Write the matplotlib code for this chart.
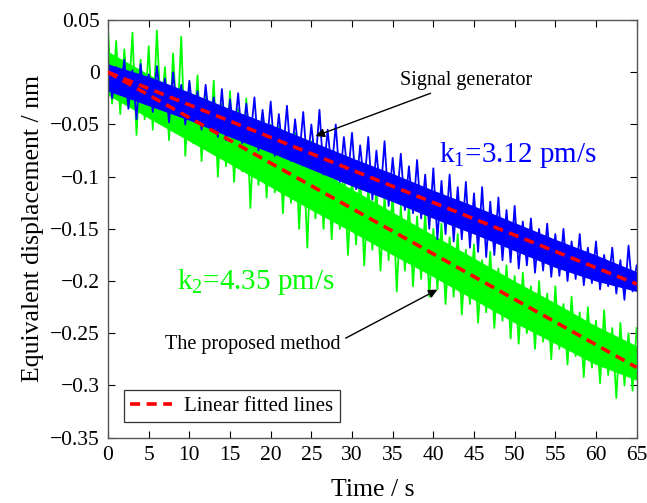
import matplotlib

matplotlib.use("Agg")
import matplotlib.pyplot as plt  # noqa: E402
import numpy as np  # noqa: E402

plt.rcParams.update({
    "font.family": ["Liberation Serif", "DejaVu Serif"],
    "mathtext.default": "regular",
    "axes.unicode_minus": True,
})

# --- data (nm vs s) ---
# noise maxima at t = 0, 1, ..., 65 and minima at t = 0.5, 1.5, ..., 64.5
t_peak = np.arange(0, 66, 1.0)
t_trough = np.arange(0.5, 65, 1.0)

green_peaks = [
    0.040, 0.030, 0.022, 0.038, 0.012, 0.025, 0.040, 0.005, 0.018, 0.034,
    -0.010, -0.003, -0.020, -0.008, -0.030, -0.018, -0.035, -0.025, -0.045, -0.040,
    -0.050, -0.052, -0.060, -0.058, -0.070, -0.066, -0.080, -0.075, -0.090, -0.086,
    -0.100, -0.095, -0.108, -0.110, -0.118, -0.115, -0.128, -0.125, -0.138, -0.134,
    -0.150, -0.145, -0.158, -0.155, -0.170, -0.165, -0.180, -0.172, -0.188, -0.185,
    -0.195, -0.192, -0.205, -0.200, -0.212, -0.205, -0.222, -0.215, -0.230, -0.225,
    -0.238, -0.228, -0.245, -0.240, -0.250, -0.245,
]
green_troughs = [
    -0.030, -0.040, -0.030, -0.060, -0.045, -0.055, -0.040, -0.065, -0.055, -0.080,
    -0.068, -0.085, -0.075, -0.100, -0.090, -0.105, -0.095, -0.130, -0.108, -0.120,
    -0.115, -0.135, -0.125, -0.150, -0.168, -0.140, -0.150, -0.160, -0.150, -0.175,
    -0.165, -0.185, -0.170, -0.190, -0.180, -0.210, -0.190, -0.205, -0.198, -0.215,
    -0.208, -0.222, -0.215, -0.232, -0.222, -0.240, -0.230, -0.245, -0.238, -0.255,
    -0.260, -0.250, -0.265, -0.258, -0.275, -0.265, -0.280, -0.272, -0.292, -0.283,
    -0.298, -0.290, -0.312, -0.300, -0.305,
]
blue_peaks = [
    0.012, 0.005, 0.012, 0.002, 0.008, -0.002, 0.006, -0.006, 0.000, -0.012,
    -0.008, -0.018, -0.012, -0.024, -0.016, -0.026, -0.020, -0.030, -0.024, -0.036,
    -0.028, -0.040, -0.032, -0.045, -0.038, -0.050, -0.036, -0.055, -0.050, -0.062,
    -0.058, -0.070, -0.062, -0.075, -0.066, -0.082, -0.078, -0.090, -0.084, -0.098,
    -0.092, -0.104, -0.098, -0.110, -0.105, -0.116, -0.110, -0.124, -0.120, -0.132,
    -0.128, -0.143, -0.140, -0.150, -0.145, -0.155, -0.150, -0.162, -0.155, -0.168,
    -0.162, -0.175, -0.168, -0.180, -0.166, -0.185,
]
blue_troughs = [
    -0.025, -0.020, -0.035, -0.045, -0.030, -0.038, -0.032, -0.048, -0.040, -0.050,
    -0.045, -0.055, -0.050, -0.062, -0.065, -0.060, -0.068, -0.064, -0.075, -0.072,
    -0.080, -0.078, -0.085, -0.082, -0.090, -0.088, -0.098, -0.094, -0.105, -0.100,
    -0.112, -0.108, -0.122, -0.118, -0.128, -0.124, -0.132, -0.135, -0.140, -0.150,
    -0.160, -0.155, -0.162, -0.160, -0.168, -0.172, -0.177, -0.175, -0.180, -0.182,
    -0.188, -0.185, -0.192, -0.190, -0.196, -0.195, -0.200, -0.198, -0.204, -0.202,
    -0.208, -0.205, -0.212, -0.218, -0.210,
]

# dense (saturated) core of each trace, every 5 s
t_core = np.arange(0, 70, 5.0)
green_core_hi = [0.020, -0.002, -0.024, -0.046, -0.068, -0.090, -0.112, -0.134,
                 -0.156, -0.178, -0.200, -0.221, -0.243, -0.262]
green_core_lo = [-0.022, -0.044, -0.066, -0.088, -0.110, -0.132, -0.153, -0.175,
                 -0.196, -0.218, -0.240, -0.260, -0.280, -0.295]
blue_core_hi = [0.008, -0.004, -0.019, -0.035, -0.050, -0.066, -0.082, -0.097,
                -0.113, -0.128, -0.144, -0.160, -0.175, -0.191]
blue_core_lo = [-0.018, -0.032, -0.046, -0.062, -0.077, -0.093, -0.109, -0.124,
                -0.140, -0.155, -0.171, -0.187, -0.200, -0.210]

k1, k2 = 3.12, 4.35          # fitted slopes, pm/s
t_span = [0, 65]

x_ticks = list(range(0, 70, 5))
y_ticks = [0.05, 0, -0.05, -0.1, -0.15, -0.2, -0.25, -0.3, -0.35]
y_labels = ["0.05", "0", "\u22120.05", "\u22120.1", "\u22120.15", "\u22120.2",
            "\u22120.25", "\u22120.3", "\u22120.35"]

GREEN, BLUE, RED = "#00ff00", "#0000ff", "#ff0000"


def band(ax, peaks, troughs, core_hi, core_lo, color):
    t = np.empty(len(peaks) + len(troughs))
    y = np.empty_like(t)
    t[0::2], t[1::2] = t_peak, t_trough
    y[0::2], y[1::2] = peaks, troughs
    ax.fill_between(t_core, core_lo, core_hi, color=color, lw=0, zorder=2)
    ax.plot(t, y, color=color, lw=1.3, zorder=2)


fig = plt.figure(figsize=(6.47, 5.03), dpi=100)
ax = fig.add_axes([0.167, 0.130, 0.817, 0.830])

band(ax, green_peaks, green_troughs, green_core_hi, green_core_lo, GREEN)
band(ax, blue_peaks, blue_troughs, blue_core_hi, blue_core_lo, BLUE)

ts = np.array(t_span, dtype=float)
fit, = ax.plot(ts, -k1 * 1e-3 * ts, color=RED, lw=2.6, dashes=(2.8, 1.8), zorder=3,
               label="Linear fitted lines")
ax.plot(ts, -k2 * 1e-3 * ts, color=RED, lw=2.6, dashes=(2.8, 1.8), zorder=3)

ax.set_xlim(0, 65)
ax.set_ylim(-0.35, 0.05)
ax.set_xticks(x_ticks)
ax.set_yticks(y_ticks)
ax.set_yticklabels(y_labels)
ax.tick_params(direction="in", top=True, right=True, length=5, width=0.8,
               labelsize=15.5, pad=6)
for sp in ax.spines.values():
    sp.set_color("#555555")
    sp.set_linewidth(1.0)

ax.set_xlabel("Time / s", fontsize=18.5, labelpad=10)
ax.set_ylabel("Equivalent displacement / nm", fontsize=18.5, labelpad=4)

ax.text(40.7, -0.079, "k$_1$=3.12 pm/s", color=BLUE, fontsize=21, va="center")
ax.text(8.5, -0.201, "k$_2$=4.35 pm/s", color=GREEN, fontsize=21, va="center")

arrow = dict(arrowstyle="-|>", color="black", lw=1.0, mutation_scale=13)
ax.annotate("Signal generator", xy=(25.2, -0.062), xytext=(35.9, -0.0074),
            fontsize=14.5, va="center", ha="left", arrowprops=arrow, zorder=5)
ax.annotate("The proposed method", xy=(40.8, -0.207), xytext=(7.0, -0.261),
            fontsize=14.5, va="center", ha="left", arrowprops=dict(arrow, relpos=(1, 0.7)),
            zorder=5)

leg = ax.legend(handles=[fit], loc="lower left", bbox_to_anchor=(0.03, 0.037),
                fontsize=15, fancybox=False, framealpha=1, edgecolor="#333333",
                handlelength=2.0, borderpad=0.3, handletextpad=0.6, borderaxespad=0)
leg.get_frame().set_linewidth(0.9)

fig.savefig("out.png", dpi=100)
